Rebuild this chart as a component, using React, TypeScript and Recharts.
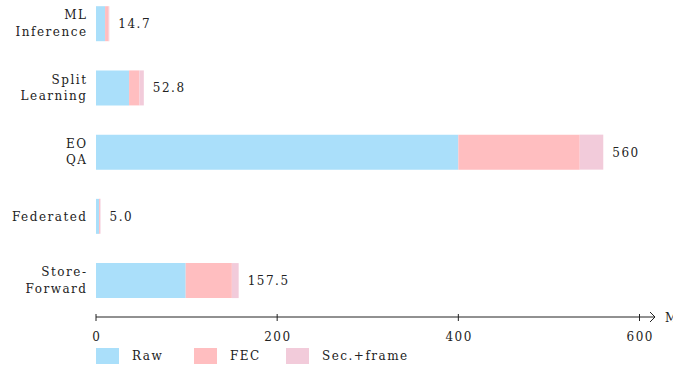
import React from 'react'
import { BarChart, Bar, XAxis, YAxis, LabelList, Legend } from 'recharts'

const categories = ['ML\nInference', 'Split\nLearning', 'EO\nQA', 'Federated', 'Store-\nForward']
const rawValues = [10, 36.5, 400, 3.4, 99]
const fecValues = [4, 11.5, 134, 1.1, 51]
const secValues = [0.7, 4.8, 26, 0.5, 7.5]
const totalLabels = ['14.7', '52.8', '560', '5.0', '157.5']
const xTicks = [0, 200, 400, 600]
const seriesNames = ['Raw', 'FEC', 'Sec.+frame']
const axisUnit = 'MB'

const COLORS = ['#aadffa', '#ffbec0', '#f2cbda']
const FONT = "'DejaVu Serif', serif"
const INK = '#222'
const textStyle = { fontFamily: FONT, fontSize: 12, letterSpacing: 1.5, fill: INK }

const data = categories.map((name, i) => ({
  name,
  raw: rawValues[i],
  fec: fecValues[i],
  sec: secValues[i],
  label: totalLabels[i],
}))

function CategoryTick({ x, y, payload }: any) {
  const lines = String(payload.value).split('\n')
  const first = lines.length === 1 ? 5 : -4
  const tx = x - 8.5
  return (
    <text textAnchor="end" style={textStyle}>
      {lines.map((l, i) => (
        <tspan key={i} x={tx} y={y + first + i * 16.7}>
          {l}
        </tspan>
      ))}
    </text>
  )
}

function ValueTick({ x, y, payload }: any) {
  return (
    <g>
      <line x1={x} x2={x} y1={y + 1.7} y2={y + 8.7} stroke={INK} strokeWidth={1} />
      <text x={x + 0.75} y={y + 29} textAnchor="middle" style={textStyle}>
        {payload.value}
      </text>
    </g>
  )
}

function AxisArrow(props: any) {
  const vb = props.viewBox || { x: 96, y: 312, width: 543, height: 34 }
  const y0 = vb.y + 4.7
  const end = vb.x + vb.width + 15.5
  return (
    <g>
      <line x1={vb.x} x2={end} y1={y0} y2={y0} stroke={INK} strokeWidth={1} />
      <path
        d={`M${end - 5},${y0 - 5} Q${end - 1.5},${y0 - 1.5} ${end},${y0} Q${end - 1.5},${y0 + 1.5} ${end - 5},${y0 + 5}`}
        fill="none"
        stroke={INK}
        strokeWidth={1}
      />
      <text x={end + 10} y={y0 + 4.5} style={textStyle}>
        {axisUnit}
      </text>
    </g>
  )
}

function TotalLabel(p: any) {
  return (
    <text x={p.x + p.width + 9} y={p.y + p.height / 2 + 4.5} style={textStyle}>
      {p.value}
    </text>
  )
}

const legendWidths = [98, 92, 130]

function LegendContent() {
  return (
    <div
      style={{
        display: 'flex',
        alignItems: 'center',
        height: 20,
        paddingLeft: 96,
        fontFamily: FONT,
        fontSize: 12,
        letterSpacing: 1.5,
        color: INK,
      }}
    >
      {seriesNames.map((n, i) => (
        <div key={n} style={{ display: 'flex', alignItems: 'center', width: legendWidths[i] }}>
          <span style={{ display: 'inline-block', width: 23, height: 16, background: COLORS[i], marginRight: 13 }} />
          {n}
        </div>
      ))}
    </div>
  )
}

export default function App() {
  return (
    <div style={{ position: 'absolute', top: 0, left: 0, background: '#fff' }}>
      <BarChart
        width={673}
        height={366}
        data={data}
        layout="vertical"
        margin={{ top: -8.8, right: 33.5, bottom: 0, left: 8 }}
        barSize={35}
        style={{ fontFamily: FONT }}
      >
        <XAxis
          type="number"
          domain={[0, 600]}
          ticks={xTicks}
          height={33.7}
          axisLine={false}
          tickLine={false}
          tickSize={0}
          tickMargin={0}
          tick={<ValueTick />}
          label={{ content: (p: any) => <AxisArrow {...p} /> }}
        />
        <YAxis
          type="category"
          dataKey="name"
          width={88}
          axisLine={false}
          tickLine={false}
          tickSize={0}
          tickMargin={0}
          tick={<CategoryTick />}
          interval={0}
        />
        <Legend
          verticalAlign="bottom"
          align="left"
          content={<LegendContent />}
          wrapperStyle={{ left: 0, bottom: 0, width: 673 }}
        />
        <Bar dataKey="raw" name={seriesNames[0]} stackId="a" fill={COLORS[0]} isAnimationActive={false} />
        <Bar dataKey="fec" name={seriesNames[1]} stackId="a" fill={COLORS[1]} isAnimationActive={false} />
        <Bar dataKey="sec" name={seriesNames[2]} stackId="a" fill={COLORS[2]} isAnimationActive={false}>
          <LabelList dataKey="label" content={<TotalLabel />} />
        </Bar>
      </BarChart>
    </div>
  )
}
